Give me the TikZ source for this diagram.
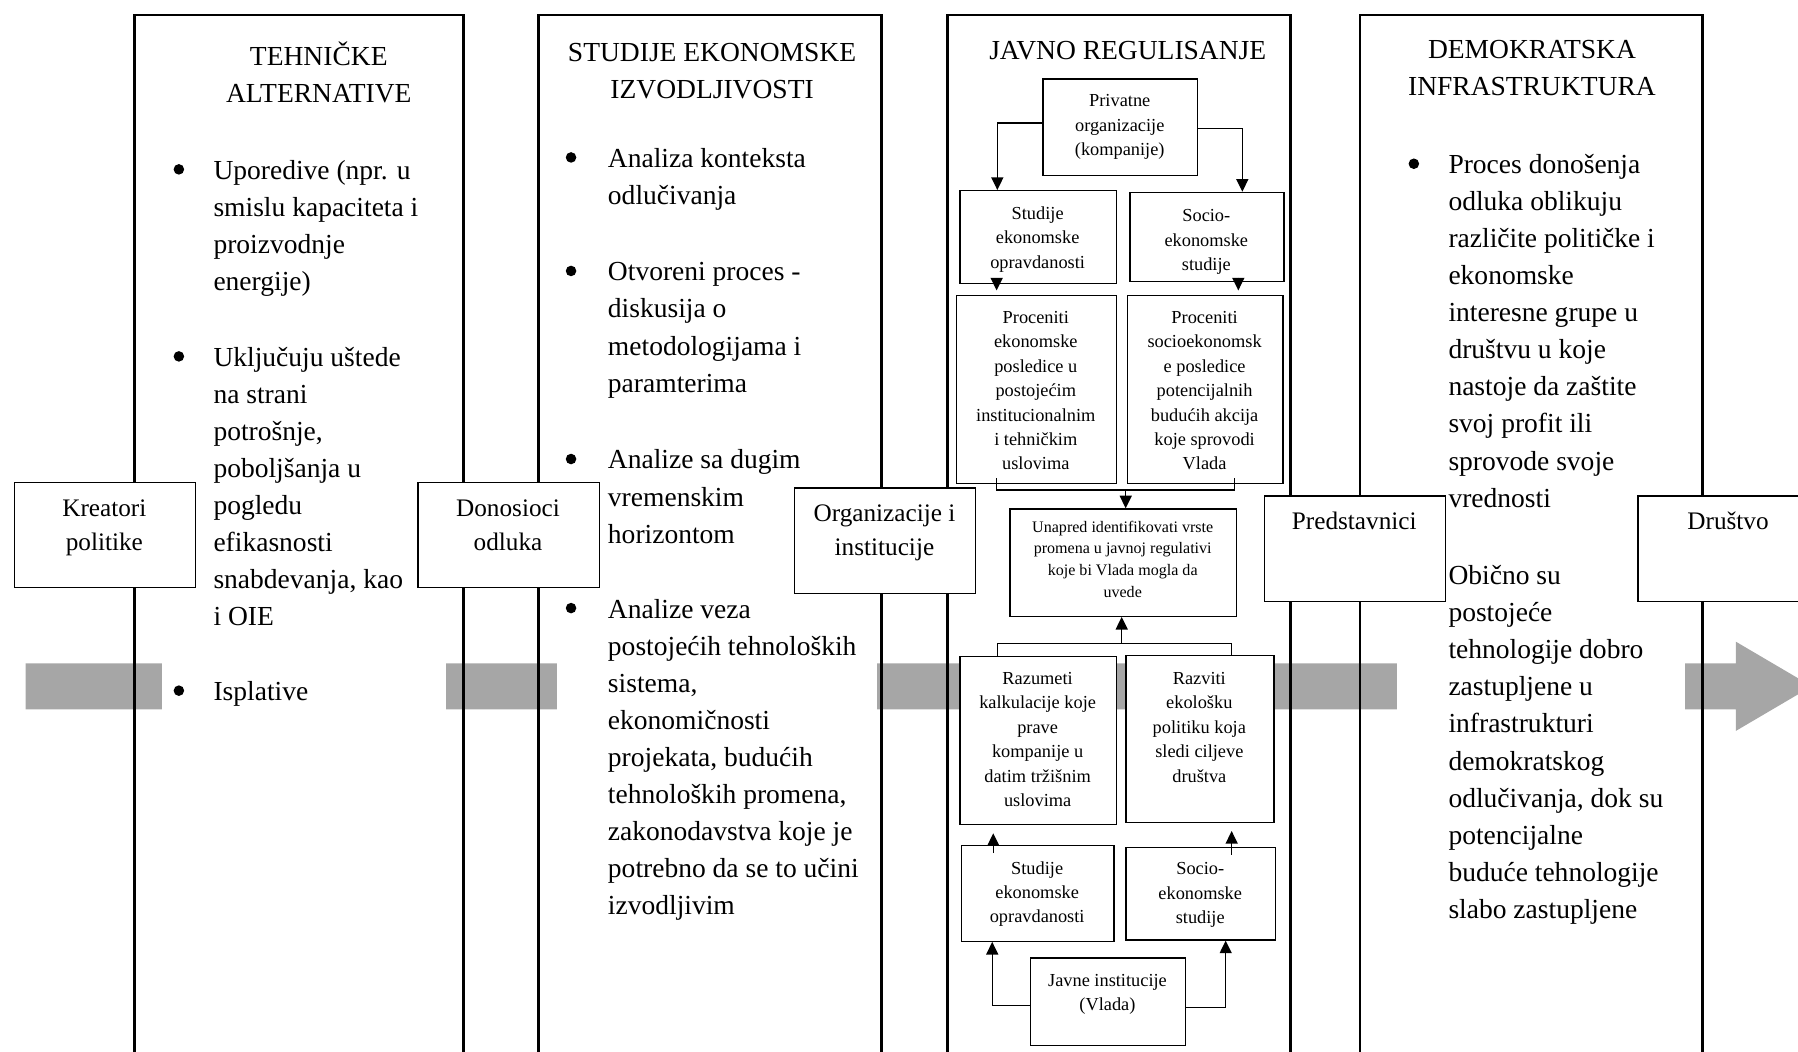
\documentclass[tikz,border=0pt]{standalone}
\usepackage{fontspec}
\setmainfont{Liberation Serif}
\usetikzlibrary{arrows.meta}
\definecolor{bandgray}{RGB}{166,166,166}

\begin{document}
\begin{tikzpicture}[x=1pt,y=-1pt,
  column/.style={draw=black, line width=2.4pt},
  lblbox/.style={draw=black, fill=white, line width=1.2pt, inner sep=0pt,
    anchor=north west, minimum width=158pt, minimum height=92pt},
  fbox/.style={draw=black, fill=white, line width=1.1pt, inner sep=0pt, anchor=north west},
  body/.style={font=\fontsize{24}{32.3}\selectfont, align=left, anchor=base west, inner sep=0pt},
  head/.style={font=\fontsize{24}{32}\selectfont, align=center, anchor=base, inner sep=0pt},
  lbl/.style={font=\fontsize{22}{29.8}\selectfont, align=center, anchor=base, inner sep=0pt},
  ftext/.style={font=\fontsize{16}{21.3}\selectfont, align=center, anchor=base, inner sep=0pt},
  stext/.style={font=\fontsize{14}{18.9}\selectfont, align=center, anchor=base, inner sep=0pt},
  arr/.style={line width=1.1pt, -{Triangle[width=10.5pt,length=11pt]}},
  link/.style={line width=1.1pt},
  bul/.style={fill=black}
]
% (text nodes are placed by the baseline of their last line)
\useasboundingbox (0,0) rectangle (1568,917);
\clip (0,0) rectangle (1568,917);

% broad grey flow arrow running behind the columns
\fill[bandgray] (22.4,578.5) -- (1513.8,578.5) -- (1513.8,559.6) -- (1580,598.5)
  -- (1513.8,637.4) -- (1513.8,618.6) -- (22.4,618.6) -- cycle;

% white backgrounds of the text areas
\fill[white] (141.4,572) rectangle (389,625);
\fill[white] (485.5,572) rectangle (764.6,625);
\fill[white] (1218,572) rectangle (1469.5,625);

% the four columns
\draw[column] (117.2,13) rectangle (404.5,960);
\draw[column] (469.6,13) rectangle (768.9,960);
\draw[column] (826.3,13) rectangle (1125.7,960);
\draw[column] (1186,13) rectangle (1484.8,960);

% column headings
\node[head] (h1) at (278,89.5) {TEHNIČKE\\ALTERNATIVE};
\node[head] (h2) at (621,86) {STUDIJE EKONOMSKE\\IZVODLJIVOSTI};
\node[head] (h3) at (983.5,52) {JAVNO REGULISANJE};
\node[head] (h4) at (1336,83) {DEMOKRATSKA\\INFRASTRUKTURA};

% column 1
\fill[bul] (156,147.7) circle (4.6);
\node[body] (c1a) at (186,253.3) {Uporedive (npr. u\\smislu kapaciteta i\\proizvodnje\\energije)};
\fill[bul] (156,310.8) circle (4.6);
\node[body] (c1b) at (186,545.6) {Uključuju uštede\\na strani\\potrošnje,\\poboljšanja u\\pogledu\\efikasnosti\\snabdevanja, kao\\i OIE};
\fill[bul] (156,602.3) circle (4.6);
\node[body] (c1c) at (186,611) {Isplative};

% column 2
\fill[bul] (498,137.3) circle (4.6);
\node[body] (c2a) at (530,178.3) {Analiza konteksta\\odlučivanja};
\fill[bul] (498,236.3) circle (4.6);
\node[body] (c2b) at (530,341.9) {Otvoreni proces -\\diskusija o\\metodologijama i\\paramterima};
\fill[bul] (498,400.3) circle (4.6);
\node[body] (c2c) at (530,473.6) {Analize sa dugim\\vremenskim\\horizontom};
\fill[bul] (498,530.3) circle (4.6);
\node[body] (c2d) at (530,797.4) {Analize veza\\postojećih tehnoloških\\sistema,\\ekonomičnosti\\projekata, budućih\\tehnoloških promena,\\zakonodavstva koje je\\potrebno da se to učini\\izvodljivim};

% column 4
\fill[bul] (1233,142.8) circle (4.6);
\node[body] (c4a) at (1263,442.2) {Proces donošenja\\odluka oblikuju\\različite političke i\\ekonomske\\interesne grupe u\\društvu u koje\\nastoje da zaštite\\svoj profit ili\\sprovode svoje\\vrednosti};
\node[body] (c4b) at (1263,800.7) {Obično su\\postojeće\\tehnologije dobro\\zastupljene u\\infrastrukturi\\demokratskog\\odlučivanja, dok su\\potencijalne\\buduće tehnologije\\slabo zastupljene};

% actors placed on the flow
\node[lblbox] (kreat) at (12,420) {};
\node[lbl] (kreat-t) at (91,479.8) {Kreatori\\politike};
\node[lblbox] (donos) at (364,420) {};
\node[lbl] (donos-t) at (443,479.8) {Donosioci\\odluka};
\node[lblbox] (organ) at (692.2,425) {};
\node[lbl] (organ-t) at (771.3,484.8) {Organizacije i\\institucije};
\node[lblbox] (pred) at (1102,432) {};
\node[lbl] (pred-t) at (1181,461.6) {Predstavnici};
\node[lblbox] (drus) at (1428,432) {};
\node[lbl] (drus-t) at (1507,461.6) {Društvo};

% public regulation flow chart
\node[fbox, minimum width=135pt, minimum height=84.3pt] (priv) at (909,68.3) {};
\node[ftext] (priv-t) at (976.5,135.6) {Privatne\\organizacije\\(kompanije)};

\node[fbox, minimum width=136.6pt, minimum height=80.8pt] (s1) at (836.6,165.7) {};
\node[ftext] (s1-t) at (904.9,233.9) {Studije\\ekonomske\\opravdanosti};
\node[fbox, minimum width=134.3pt, minimum height=77.8pt] (so1) at (984.9,167.2) {};
\node[ftext] (so1-t) at (1052,235.9) {Socio-\\ekonomske\\studije};

\node[fbox, minimum width=139.8pt, minimum height=163.7pt] (p1) at (833.4,257.3) {};
\node[ftext] (p1-t) at (903.3,409.8) {Proceniti\\ekonomske\\posledice u\\postojećim\\institucionalnim\\i tehničkim\\uslovima};
\node[fbox, minimum width=135.5pt, minimum height=163.7pt] (p2) at (982.8,257.3) {};
\node[ftext] (p2-t) at (1050.5,409.8) {Proceniti\\socioekonomsk\\e posledice\\potencijalnih\\budućih akcija\\koje sprovodi\\Vlada};

\node[fbox, minimum width=197.7pt, minimum height=93.6pt] (un) at (880.2,443.3) {};
\node[stext] (un-t) at (979.1,520.9) {Unapred identifikovati vrste\\promena u javnoj regulativi\\koje bi Vlada mogla da\\uvede};

\node[fbox, minimum width=136.6pt, minimum height=146.5pt] (r1) at (836.6,572.1) {};
\node[ftext] (r1-t) at (904.9,703.3) {Razumeti\\kalkulacije koje\\prave\\kompanije u\\datim tržišnim\\uslovima};
\node[fbox, minimum width=129pt, minimum height=145.4pt] (r2) at (981.4,571.2) {};
\node[ftext] (r2-t) at (1045.9,682) {Razviti\\ekološku\\politiku koja\\sledi ciljeve\\društva};

\node[fbox, minimum width=132.9pt, minimum height=83.4pt] (s2) at (838,736.9) {};
\node[ftext] (s2-t) at (904.5,804.8) {Studije\\ekonomske\\opravdanosti};
\node[fbox, minimum width=130.5pt, minimum height=80.8pt] (so2) at (981.4,738.4) {};
\node[ftext] (so2-t) at (1046.7,805.6) {Socio-\\ekonomske\\studije};

\node[fbox, minimum width=135.2pt, minimum height=76.5pt] (jav) at (898.2,834.8) {};
\node[ftext] (jav-t) at (965.8,881.2) {Javne institucije\\(Vlada)};

% connectors from the private organisations
\draw[arr] ([yshift=3.8pt]priv.west) -| ([xshift=-35.7pt]s1.north);
\draw[arr] ([yshift=-0.8pt]priv.east) -| ([xshift=30.8pt]so1.north);
\draw[arr] ([xshift=-36.3pt,yshift=4pt]s1.south) -- ([xshift=-36.3pt,yshift=4pt]s1.south |- p1.north);
\draw[arr] ([xshift=27.3pt,yshift=4pt]so1.south) -- ([xshift=27.3pt,yshift=4pt]so1.south |- p2.north);

% upper bracket joining the two assessments
\coordinate (bt) at (981.7,427.3);
\draw[link] ([xshift=-34.7pt,yshift=5pt]p1.south) |- (bt) -| ([xshift=25.7pt,yshift=5pt]p2.south);
\draw[arr] (bt) -- (bt |- un.north);

% lower bracket joining the two goals
\coordinate (bb) at (978.2,561);
\draw[link] ([xshift=-35.7pt]r1.north) |- (bb) -| ([xshift=27.6pt]r2.north);
\draw[arr] (bb) -- (bb |- un.south);

% studies feeding the goals
\draw[arr] ([xshift=-38.8pt,yshift=-7pt]s2.north) -- ([xshift=-38.8pt,yshift=-7pt]s2.north |- r1.south);
\draw[arr] ([xshift=26.9pt,yshift=-7pt]so2.north) -- ([xshift=26.9pt,yshift=-7pt]so2.north |- r2.south);

% connectors from the public institutions
\draw[arr] ([yshift=-3.5pt]jav.west) -| ([xshift=-39.7pt]s2.south);
\draw[arr] ([yshift=-4.9pt]jav.east) -| ([xshift=21.7pt]so2.south);
\end{tikzpicture}
\end{document}
